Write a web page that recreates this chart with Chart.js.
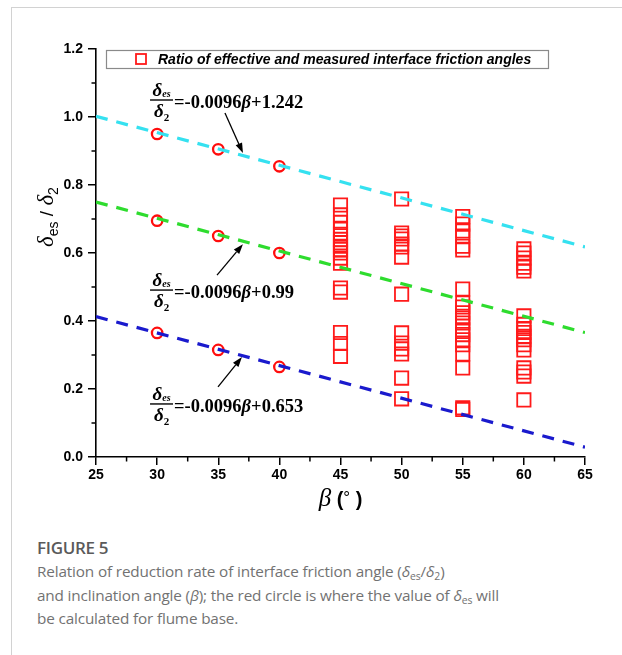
<!DOCTYPE html>
<html><head><meta charset="utf-8">
<script src="https://cdn.jsdelivr.net/npm/chart.js@4.4.1/dist/chart.umd.min.js"></script>
<style>
html,body{margin:0;padding:0;background:#fff;}
#wrap{position:relative;width:622px;height:655px;overflow:hidden;background:#fff;}
#frame{position:absolute;left:11px;top:7px;width:700px;height:760px;border-left:1px solid #d2d2d2;border-top:1px solid #d2d2d2;}
#c{position:absolute;left:0;top:0;}
.cap{position:absolute;left:37px;font-family:"Open Sans",sans-serif;color:#727272;white-space:nowrap;}
.cap sub{font-size:0.68em;vertical-align:baseline;position:relative;top:0.3em;line-height:0;}
</style></head><body>
<div id="wrap">
<div id="frame"></div>
<canvas id="c" width="622" height="520"></canvas>
<div class="cap" style="top:536px;font-size:17px;font-weight:600;color:#5a5a5a;letter-spacing:-0.3px;">FIGURE 5</div>
<div class="cap" style="top:560px;font-size:15.3px;line-height:23.5px;letter-spacing:-0.15px;">Relation of reduction rate of interface friction angle (<i>δ</i><sub>es</sub>/<i>δ</i><sub>2</sub>)<br>and inclination angle (<i>β</i>); the red circle is where the value of <i>δ</i><sub>es</sub> will<br>be calculated for flume base.</div>
</div>
<script>
// ---- data ----
const xTickLabels = [25, 30, 35, 40, 45, 50, 55, 60, 65];
const yTickLabels = [0.0, 0.2, 0.4, 0.6, 0.8, 1.0, 1.2];
const xMinorTicks = [27.5, 32.5, 37.5, 42.5, 47.5, 52.5, 57.5, 62.5];
const yMinorTicks = [0.1, 0.3, 0.5, 0.7, 0.9, 1.1];

const lineBeta = [25, 65];
const upperLine = [1.002, 0.618];
const middleLine = [0.750, 0.366];
const lowerLine = [0.413, 0.029];

const circleBeta = [30, 35, 40];
const circleUpper = [0.950, 0.905, 0.855];
const circleMiddle = [0.695, 0.650, 0.600];
const circleLower = [0.365, 0.315, 0.265];

const squares45 = [0.741, 0.712, 0.690, 0.670, 0.655, 0.640, 0.630, 0.620, 0.610, 0.600, 0.585, 0.570, 0.497, 0.485, 0.366, 0.334, 0.296];
const squares50 = [0.759, 0.659, 0.650, 0.641, 0.626, 0.618, 0.588, 0.479, 0.365, 0.335, 0.318, 0.303, 0.232, 0.171];
const squares55 = [0.707, 0.685, 0.665, 0.650, 0.620, 0.609, 0.494, 0.453, 0.441, 0.424, 0.409, 0.394, 0.374, 0.360, 0.345, 0.330, 0.303, 0.262, 0.145, 0.140];
const squares60 = [0.612, 0.600, 0.585, 0.570, 0.558, 0.547, 0.415, 0.390, 0.378, 0.366, 0.355, 0.345, 0.330, 0.315, 0.262, 0.250, 0.238, 0.168];
const squareBeta = [45, 50, 55, 60];

const legendLabel = 'Ratio of effective and measured interface friction angles';
const equations = ['=-0.0096', '=-0.0096', '=-0.0096'];
const intercepts = ['+1.242', '+0.99', '+0.653'];

// ---- build datasets ----
const pts = (xs, ys) => ys.map((y, i) => ({x: xs[i], y}));
const col = (b, ys) => ys.map(y => ({x: b, y}));
const squarePts = [].concat(col(squareBeta[0], squares45), col(squareBeta[1], squares50), col(squareBeta[2], squares55), col(squareBeta[3], squares60));
const circlePts = [].concat(pts(circleBeta, circleUpper), pts(circleBeta, circleMiddle), pts(circleBeta, circleLower));

const lineDs = (ys, c) => ({data: pts(lineBeta, ys), showLine: true, borderColor: c, borderWidth: 3.2, borderDash: [12, 9], pointRadius: 0, fill: false, order: 0});

const SERIF = '"Liberation Serif", "Times New Roman", serif';
const SANS = '"Liberation Sans", Arial, sans-serif';

const decor = {
  id: 'decor',
  afterDraw(chart) {
    const ctx = chart.ctx, xs = chart.scales.x, ys = chart.scales.y, ca = chart.chartArea;
    ctx.save();
    ctx.strokeStyle = '#000'; ctx.lineWidth = 1.5;
    xMinorTicks.forEach(v => { const p = xs.getPixelForValue(v); ctx.beginPath(); ctx.moveTo(p, ca.bottom); ctx.lineTo(p, ca.bottom + 4.5); ctx.stroke(); });
    yMinorTicks.forEach(v => { const p = ys.getPixelForValue(v); ctx.beginPath(); ctx.moveTo(ca.left, p); ctx.lineTo(ca.left - 4.5, p); ctx.stroke(); });

    // legend box
    const lx = ca.left + 10, ly = ca.top + 1, lw = 442, lh = 18;
    ctx.fillStyle = '#fff'; ctx.fillRect(lx, ly, lw, lh);
    ctx.strokeStyle = '#8a8a8a'; ctx.lineWidth = 1.2; ctx.strokeRect(lx + 0.5, ly + 0.5, lw, lh);
    ctx.strokeStyle = '#ff1a1a'; ctx.lineWidth = 1.8; ctx.strokeRect(lx + 30, ly + 4, 10, 10);
    ctx.fillStyle = '#000'; ctx.font = 'italic bold 14px ' + SANS; ctx.textBaseline = 'alphabetic';
    ctx.fillText(legendLabel, lx + 52, ly + 14);

    // y title (rotated)
    ctx.save();
    ctx.translate(47, 217); ctx.rotate(-Math.PI / 2);
    const yParts = [
      {t: 'δ', f: 'italic 23px ' + SERIF, dy: 0},
      {t: 'es', f: '14px ' + SANS, dy: 5},
      {t: ' / ', f: '19px ' + SANS, dy: 0},
      {t: 'δ', f: 'italic 23px ' + SERIF, dy: 0},
      {t: '2', f: '14px ' + SANS, dy: 5}
    ];
    let tw = 0; yParts.forEach(p => { ctx.font = p.f; p.w = ctx.measureText(p.t).width; tw += p.w; });
    let cx = -tw / 2;
    yParts.forEach(p => { ctx.font = p.f; ctx.fillText(p.t, cx, 6 + p.dy); cx += p.w; });
    ctx.restore();

    // x title
    const xc = (ca.left + ca.right) / 2;
    const xParts = [
      {t: 'β', f: 'italic 25px ' + SERIF},
      {t: ' (', f: 'bold 20px ' + SANS},
      {t: '°', f: '17px ' + SANS, dy: -3},
      {t: ' )', f: 'bold 20px ' + SANS}
    ];
    tw = 0; xParts.forEach(p => { ctx.font = p.f; p.w = ctx.measureText(p.t).width; tw += p.w; });
    cx = xc - tw / 2;
    xParts.forEach(p => { ctx.font = p.f; ctx.fillText(p.t, cx, 506 + (p.dy || 0)); cx += p.w; });

    // equation annotations
    const ann = chart.options.plugins.decor.annotations;
    ann.forEach((a, i) => {
      const fx = xs.getPixelForValue(a.at[0]), by = ys.getPixelForValue(a.at[1]);
      ctx.fillStyle = '#000';
      ctx.font = 'italic bold 19px ' + SERIF;
      const dW = ctx.measureText('δ').width;
      ctx.font = 'italic bold 10px ' + SERIF;
      const esW = ctx.measureText('es').width;
      let nx = fx + (23 - dW - esW) / 2;
      ctx.font = 'italic bold 19px ' + SERIF; ctx.fillText('δ', nx, by - 4);
      ctx.font = 'italic bold 10px ' + SERIF; ctx.fillText('es', nx + dW, by - 3);
      ctx.strokeStyle = '#000'; ctx.lineWidth = 1.4;
      ctx.beginPath(); ctx.moveTo(fx, by); ctx.lineTo(fx + 23, by); ctx.stroke();
      ctx.font = 'bold 11px ' + SERIF; const twoW = ctx.measureText('2').width;
      nx = fx + (23 - dW - twoW) / 2;
      ctx.font = 'italic bold 19px ' + SERIF; ctx.fillText('δ', nx, by + 17);
      ctx.font = 'bold 11px ' + SERIF; ctx.fillText('2', nx + dW, by + 21);
      let ex = fx + 24;
      ctx.font = 'bold 18.5px ' + SERIF; ctx.fillText(equations[i], ex, by + 8); ex += ctx.measureText(equations[i]).width;
      ctx.font = 'italic bold 18.5px ' + SERIF; ctx.fillText('β', ex, by + 8); ex += ctx.measureText('β').width;
      ctx.font = 'bold 18.5px ' + SERIF; ctx.fillText(intercepts[i], ex, by + 8);
      const x1 = xs.getPixelForValue(a.arrow[0]), y1 = ys.getPixelForValue(a.arrow[1]);
      const x2 = xs.getPixelForValue(a.arrow[2]), y2 = ys.getPixelForValue(a.arrow[3]);
      const ang = Math.atan2(y2 - y1, x2 - x1), hl = 10, hw = 3.5;
      const bx = x2 - hl * Math.cos(ang), byy = y2 - hl * Math.sin(ang);
      ctx.lineWidth = 1.3;
      ctx.beginPath(); ctx.moveTo(x1, y1); ctx.lineTo(bx, byy); ctx.stroke();
      ctx.beginPath(); ctx.moveTo(x2, y2);
      ctx.lineTo(bx + hw * Math.sin(ang), byy - hw * Math.cos(ang));
      ctx.lineTo(bx - hw * Math.sin(ang), byy + hw * Math.cos(ang));
      ctx.closePath(); ctx.fill();
    });
    ctx.restore();
  }
};

new Chart(document.getElementById('c'), {
  type: 'scatter',
  data: {
    datasets: [
      lineDs(upperLine, '#35e1f0'),
      lineDs(middleLine, '#2edc2e'),
      lineDs(lowerLine, '#1a1acd'),
      {data: circlePts, pointStyle: 'circle', pointRadius: 5.2, pointBorderWidth: 2.3, pointBorderColor: '#ff0d0d', pointBackgroundColor: 'rgba(255,255,255,0)', order: 1},
      {data: squarePts, pointStyle: 'rect', pointRadius: 9.4, pointBorderWidth: 1.8, pointBorderColor: '#ff1a1a', pointBackgroundColor: 'rgba(255,255,255,0)', order: 1}
    ]
  },
  options: {
    responsive: false, animation: false, devicePixelRatio: 1,
    layout: {padding: {left: 0, right: 37, top: 49, bottom: 0}},
    plugins: {
      legend: {display: false}, tooltip: {enabled: false},
      decor: {annotations: [
        {at: [29.42, 1.05], arrow: [35.55, 1.012, 37.02, 0.894]},
        {at: [29.42, 0.491], arrow: [34.9, 0.535, 37.02, 0.626]},
        {at: [29.42, 0.156], arrow: [34.98, 0.206, 36.94, 0.294]}
      ]}
    },
    scales: {
      x: {
        type: 'linear', min: 25, max: 65,
        afterBuildTicks: s => { s.ticks = xTickLabels.map(v => ({value: v})); },
        afterFit: s => { s.height = 63; },
        ticks: {color: '#000', font: {family: SANS, weight: 'bold', size: 14}, padding: 2, maxRotation: 0, autoSkip: false, callback: v => String(v)},
        grid: {drawOnChartArea: false, color: '#000', lineWidth: 1.5, tickLength: 8},
        border: {color: '#000', width: 1.6}
      },
      y: {
        min: 0, max: 1.2,
        afterBuildTicks: s => { s.ticks = yTickLabels.map(v => ({value: v})); },
        afterFit: s => { s.width = 96; },
        ticks: {color: '#000', font: {family: SANS, weight: 'bold', size: 14}, padding: 5, autoSkip: false, callback: v => Number(v).toFixed(1)},
        grid: {drawOnChartArea: false, color: '#000', lineWidth: 1.5, tickLength: 8},
        border: {color: '#000', width: 1.6}
      }
    }
  },
  plugins: [decor]
});
</script>
</body></html>
